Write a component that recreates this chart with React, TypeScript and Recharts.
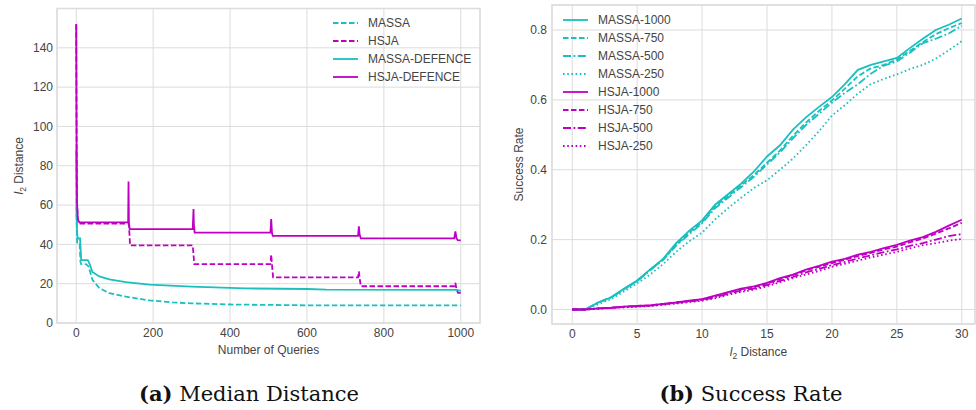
import React from 'react';
import { LineChart, Line, XAxis, YAxis, CartesianGrid, Legend, ReferenceArea, Label } from 'recharts';

const CYAN = '#1abfbf';
const MAGENTA = '#bf00c4';
const GRID = '#dcdcdc';
const TEXT = '#444';
const FONT = '"Liberation Sans", Arial, sans-serif';

const DASHED = '5.5 2.5';
const DASHDOT = '8 2.5 1.8 2.5';
const DOTTED = '1.6 2.6';

// (a) median l2 distance vs number of queries
const massaQ = [0, 1, 2, 3, 9, 11, 13, 25, 32, 42, 60, 86, 129, 190, 250, 300, 400, 500, 600, 1000];
const massaDist = [88, 55, 42, 40, 40, 31, 30, 30, 28.8, 22, 17.8, 15.2, 13.4, 11.5, 10.5, 10, 9.4, 9.2, 9.0, 9.0];

const massaDefQ = [0, 1, 2, 4, 10, 13, 30, 35, 42, 60, 86, 129, 190, 300, 400, 440, 600, 650, 990, 1000];
const massaDefDist = [88, 55, 46, 43, 43, 32, 32, 30, 26, 23.7, 22.2, 20.8, 19.5, 18.5, 17.9, 17.6, 17.3, 17.0, 16.9, 16.3];

const hsjaQ = [0, 1, 2, 4, 8, 137, 140, 303, 307, 505, 507, 509, 512, 733, 735, 737, 740, 983, 986, 989, 993, 1000];
const hsjaDist = [152, 90, 62, 52, 50.6, 50.6, 39.5, 39.5, 30, 30, 34.8, 30, 23.2, 23.2, 26.3, 23, 18.7, 18.7, 20.4, 17, 15.3, 15.3];

const hsjaDefQ = [0, 1, 2, 4, 8, 135, 136, 137, 139, 303, 305, 306, 308, 505, 507, 509, 511, 733, 735, 737, 740, 983, 986, 989, 992, 1000];
const hsjaDefDist = [152, 90, 62, 53, 51.2, 51.2, 72, 51, 47.8, 47.8, 58, 50, 46, 46, 52.9, 46, 44.3, 44.3, 49.2, 45, 43.1, 43.1, 46.6, 43, 42.2, 42];

const queryTicks = [0, 200, 400, 600, 800, 1000];
const distTicks = [0, 20, 40, 60, 80, 100, 120, 140];

// (b) success rate vs l2 distance
const l2Dist = [0, 1, 2, 3, 4, 5, 6, 7, 8, 9, 10, 11, 12, 13, 14, 15, 16, 17, 18, 19, 20, 21, 22, 23, 24, 25, 26, 27, 28, 29, 30];
const massa1000 = [0, 0, 0.02, 0.035, 0.06, 0.083, 0.115, 0.145, 0.19, 0.225, 0.255, 0.3, 0.33, 0.36, 0.395, 0.438, 0.47, 0.515, 0.55, 0.58, 0.608, 0.645, 0.686, 0.7, 0.71, 0.72, 0.748, 0.775, 0.8, 0.815, 0.833];
const massa750 = [0, 0, 0.02, 0.035, 0.058, 0.082, 0.113, 0.143, 0.185, 0.22, 0.25, 0.295, 0.325, 0.355, 0.385, 0.42, 0.455, 0.497, 0.535, 0.568, 0.598, 0.632, 0.668, 0.69, 0.7, 0.715, 0.74, 0.765, 0.788, 0.805, 0.82];
const massa500 = [0, 0, 0.02, 0.035, 0.058, 0.081, 0.112, 0.142, 0.183, 0.215, 0.247, 0.29, 0.32, 0.35, 0.38, 0.415, 0.45, 0.49, 0.528, 0.56, 0.592, 0.62, 0.645, 0.675, 0.698, 0.71, 0.735, 0.762, 0.775, 0.79, 0.812];
const massa250 = [0, 0, 0.015, 0.03, 0.052, 0.075, 0.1, 0.13, 0.165, 0.195, 0.22, 0.258, 0.29, 0.32, 0.348, 0.37, 0.4, 0.432, 0.47, 0.51, 0.555, 0.585, 0.618, 0.645, 0.66, 0.673, 0.688, 0.7, 0.718, 0.742, 0.768];
const hsja1000 = [0, 0, 0.003, 0.005, 0.008, 0.01, 0.012, 0.016, 0.02, 0.025, 0.03, 0.04, 0.05, 0.06, 0.066, 0.076, 0.09, 0.1, 0.114, 0.125, 0.137, 0.145, 0.157, 0.165, 0.176, 0.185, 0.197, 0.207, 0.222, 0.24, 0.257];
const hsja750 = [0, 0, 0.003, 0.005, 0.008, 0.01, 0.012, 0.016, 0.02, 0.024, 0.029, 0.038, 0.048, 0.058, 0.064, 0.074, 0.087, 0.098, 0.112, 0.122, 0.133, 0.142, 0.153, 0.162, 0.172, 0.18, 0.192, 0.203, 0.217, 0.232, 0.248];
const hsja500 = [0, 0, 0.003, 0.005, 0.007, 0.009, 0.011, 0.015, 0.019, 0.023, 0.027, 0.035, 0.045, 0.054, 0.06, 0.07, 0.082, 0.093, 0.106, 0.116, 0.127, 0.136, 0.146, 0.155, 0.164, 0.172, 0.182, 0.19, 0.2, 0.21, 0.216];
const hsja250 = [0, 0, 0.002, 0.004, 0.006, 0.008, 0.01, 0.013, 0.017, 0.021, 0.025, 0.032, 0.042, 0.05, 0.057, 0.066, 0.078, 0.09, 0.1, 0.11, 0.122, 0.131, 0.14, 0.149, 0.157, 0.165, 0.175, 0.184, 0.19, 0.197, 0.202];

const l2Ticks = [0, 5, 10, 15, 20, 25, 30];
const rateTicks = [0, 0.2, 0.4, 0.6, 0.8];

const QUERY_DOMAIN = [-50, 1050];
const DIST_DOMAIN = [0, 160];
const L2_DOMAIN = [-1.56, 31.02];
const RATE_DOMAIN = [-0.0415, 0.8715];

const toRows = (q: number[], v: number[]) => q.map((x, i) => ({ q: x, v: v[i] }));

const leftSeries = [
  { name: 'MASSA', color: CYAN, dash: DASHED, data: toRows(massaQ, massaDist) },
  { name: 'HSJA', color: MAGENTA, dash: DASHED, data: toRows(hsjaQ, hsjaDist) },
  { name: 'MASSA-DEFENCE', color: CYAN, dash: undefined, data: toRows(massaDefQ, massaDefDist) },
  { name: 'HSJA-DEFENCE', color: MAGENTA, dash: undefined, data: toRows(hsjaDefQ, hsjaDefDist) },
];

const rightSeries = [
  { key: 'MASSA-1000', color: CYAN, dash: undefined, values: massa1000 },
  { key: 'MASSA-750', color: CYAN, dash: DASHED, values: massa750 },
  { key: 'MASSA-500', color: CYAN, dash: DASHDOT, values: massa500 },
  { key: 'MASSA-250', color: CYAN, dash: DOTTED, values: massa250 },
  { key: 'HSJA-1000', color: MAGENTA, dash: undefined, values: hsja1000 },
  { key: 'HSJA-750', color: MAGENTA, dash: DASHED, values: hsja750 },
  { key: 'HSJA-500', color: MAGENTA, dash: DASHDOT, values: hsja500 },
  { key: 'HSJA-250', color: MAGENTA, dash: DOTTED, values: hsja250 },
];

const rateRows = l2Dist.map((d, i) => {
  const row: Record<string, number> = { d };
  rightSeries.forEach(s => { row[s.key] = s.values[i]; });
  return row;
});

type Item = { name: string; color: string; dash?: string };

const LegendBox = ({ items }: { items: Item[] }) => (
  <div style={{ fontFamily: FONT, fontSize: 12, color: TEXT }}>
    {items.map(it => (
      <div key={it.name} style={{ display: 'flex', alignItems: 'center', height: 18 }}>
        <svg width={25} height={18} style={{ display: 'block' }}>
          <line x1={0} x2={25} y1={9} y2={9} stroke={it.color} strokeWidth={1.8} strokeDasharray={it.dash} />
        </svg>
        <span style={{ marginLeft: 10, whiteSpace: 'nowrap' }}>{it.name}</span>
      </div>
    ))}
  </div>
);

// "l2 Distance" with italic l and subscript 2
const L2Text = ({ x, y, rotate }: { x: number; y: number; rotate?: boolean }) => (
  <text x={x} y={y} textAnchor="middle" fill={TEXT} fontSize={12} fontFamily={FONT}
    transform={rotate ? `rotate(-90 ${x} ${y})` : undefined}>
    <tspan fontStyle="italic">l</tspan>
    <tspan fontSize={8.5} dy={3}>2</tspan>
    <tspan dy={-3}> Distance</tspan>
  </text>
);

const tickStyle = { fill: TEXT, fontSize: 12, fontFamily: FONT };

const MedianChart = () => (
  <LineChart width={490} height={360} margin={{ top: 8.5, right: 10, bottom: 7, left: 0 }}>
    <CartesianGrid stroke={GRID} strokeWidth={1} />
    <ReferenceArea x1={QUERY_DOMAIN[0]} x2={QUERY_DOMAIN[1]} y1={DIST_DOMAIN[0]} y2={DIST_DOMAIN[1]}
      fill="none" stroke={GRID} strokeWidth={1.4} />
    <XAxis dataKey="q" type="number" domain={QUERY_DOMAIN} ticks={queryTicks} height={30}
      axisLine={false} tickLine={false} tickSize={0} tickMargin={5} tick={tickStyle}>
      <Label content={(p: any) => (
        <text x={p.viewBox.x + p.viewBox.width / 2} y={p.viewBox.y + 30.5} textAnchor="middle"
          fill={TEXT} fontSize={12} fontFamily={FONT}>Number of Queries</text>
      )} />
    </XAxis>
    <YAxis type="number" domain={DIST_DOMAIN} ticks={distTicks} width={57}
      axisLine={false} tickLine={false} tickSize={0} tickMargin={4} tick={tickStyle}>
      <Label content={(p: any) => <L2Text x={23} y={p.viewBox.y + p.viewBox.height / 2} rotate />} />
    </YAxis>
    {leftSeries.map(s => (
      <Line key={s.name} data={s.data} dataKey="v" name={s.name} type="linear" stroke={s.color}
        strokeWidth={1.8} strokeDasharray={s.dash} dot={false} isAnimationActive={false} />
    ))}
    <Legend layout="vertical" align="center" verticalAlign="middle"
      wrapperStyle={{ left: 333, top: 14, width: 'auto' }}
      content={() => <LegendBox items={leftSeries} />} />
  </LineChart>
);

const RateChart = () => (
  <LineChart width={486} height={360} data={rateRows} margin={{ top: 5, right: 1, bottom: 6, left: 0 }}>
    <CartesianGrid stroke={GRID} strokeWidth={1} />
    <ReferenceArea x1={L2_DOMAIN[0]} x2={L2_DOMAIN[1]} y1={RATE_DOMAIN[0]} y2={RATE_DOMAIN[1]}
      fill="none" stroke={GRID} strokeWidth={1.4} />
    <XAxis dataKey="d" type="number" domain={L2_DOMAIN} ticks={l2Ticks} height={30}
      axisLine={false} tickLine={false} tickSize={0} tickMargin={5} tick={tickStyle}>
      <Label content={(p: any) => <L2Text x={p.viewBox.x + p.viewBox.width / 2 - 5} y={p.viewBox.y + 31.5} />} />
    </XAxis>
    <YAxis type="number" domain={RATE_DOMAIN} ticks={rateTicks} width={62}
      axisLine={false} tickLine={false} tickSize={0} tickMargin={5} tick={tickStyle}
      tickFormatter={(v: number) => v.toFixed(1)}>
      <Label content={(p: any) => (
        <text x={33} y={p.viewBox.y + p.viewBox.height / 2} textAnchor="middle" fill={TEXT}
          fontSize={12} fontFamily={FONT}
          transform={`rotate(-90 33 ${p.viewBox.y + p.viewBox.height / 2})`}>Success Rate</text>
      )} />
    </YAxis>
    {rightSeries.map(s => (
      <Line key={s.key} dataKey={s.key} type="linear" stroke={s.color} strokeWidth={1.8}
        strokeDasharray={s.dash} dot={false} isAnimationActive={false} />
    ))}
    <Legend layout="vertical" align="center" verticalAlign="middle"
      wrapperStyle={{ left: 73, top: 11, width: 'auto' }}
      content={() => <LegendBox items={rightSeries.map(s => ({ name: s.key, color: s.color, dash: s.dash }))} />} />
  </LineChart>
);

const captionStyle: React.CSSProperties = {
  position: 'absolute', top: 383, width: 300, textAlign: 'center',
  fontFamily: '"DejaVu Serif", serif', fontSize: 21, lineHeight: 1, color: '#111',
};

export default function App() {
  return (
    <div style={{ position: 'absolute', left: 0, top: 0, width: 976, height: 410, overflow: 'hidden', background: '#fff' }}>
      <div style={{ position: 'absolute', left: 0, top: 0 }}>
        <MedianChart />
      </div>
      <div style={{ position: 'absolute', left: 490, top: 0 }}>
        <RateChart />
      </div>
      <div style={{ ...captionStyle, left: 99 }}><b>(a)</b> Median Distance</div>
      <div style={{ ...captionStyle, left: 601 }}><b>(b)</b> Success Rate</div>
    </div>
  );
}
